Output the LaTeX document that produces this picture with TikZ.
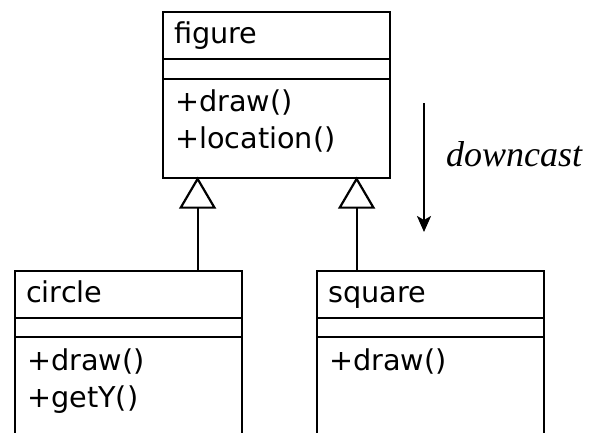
\documentclass[tikz,border=0pt]{standalone}
\usepackage{fontspec}
\newfontfamily\umlfont{DejaVu Sans}
\newfontfamily\notefont{Liberation Serif}
\usetikzlibrary{arrows.meta}

\tikzset{
  classbox/.style={draw, line width=2.2pt, rectangle, inner sep=0pt,
    minimum width=227pt, anchor=north west},
  sepline/.style={line width=2.2pt},
  member/.style={inner sep=0pt, anchor=base west,
    font=\umlfont\fontsize{28.7}{34}\selectfont},
  inherit/.style={line width=2.2pt,
    -{Triangle[open, length=32pt, width=37pt, line width=2.2pt]}},
  flow/.style={line width=2.2pt, -{Stealth[length=16pt, width=14pt, inset=4pt]}},
}

\begin{document}
\begin{tikzpicture}[x=1pt, y=1pt]
  \useasboundingbox (0,0) rectangle (590,-432);
  \clip (0,0) rectangle (590,-432);

  % base class
  \node[classbox, minimum height=166.3pt] (figure) at (162,-10.7) {};
  \draw[sepline] (figure.west |- 0,-59) -- (figure.east |- 0,-59);
  \draw[sepline] (figure.west |- 0,-79) -- (figure.east |- 0,-79);
  \node[member] (figname) at (174,-43) {figure};
  \node[member] (figdraw) at (175,-111) {+draw()};
  \node[member] (figloc) at (175,-148) {+location()};

  % derived classes (they run past the lower edge)
  \node[classbox, minimum height=200pt] (circle) at (14,-270) {};
  \draw[sepline] (circle.west |- 0,-318) -- (circle.east |- 0,-318);
  \draw[sepline] (circle.west |- 0,-337) -- (circle.east |- 0,-337);
  \node[member] (cirname) at (26,-302) {circle};
  \node[member] (cirdraw) at (27,-370) {+draw()};
  \node[member] (ciry) at (27,-407) {+getY()};

  \node[classbox, minimum height=200pt] (square) at (316,-270) {};
  \draw[sepline] (square.west |- 0,-318) -- (square.east |- 0,-318);
  \draw[sepline] (square.west |- 0,-337) -- (square.east |- 0,-337);
  \node[member] (sqname) at (328,-302) {square};
  \node[member] (sqdraw) at (329,-370) {+draw()};

  % generalisation arrows
  \draw[inherit] ([xshift=-79pt]figure.south |- circle.north)
    -- ([xshift=-79pt, yshift=2.5pt]figure.south);
  \draw[inherit] ([xshift=80pt]figure.south |- square.north)
    -- ([xshift=80pt, yshift=2.5pt]figure.south);

  % downcast note
  \coordinate (dtop) at (424,-103);
  \coordinate (dbot) at (424,-232);
  \draw[flow] (dtop) -- (dbot);
  \node[inner sep=0pt, anchor=base west, font=\notefont\itshape\fontsize{36}{40}\selectfont]
    (downcast) at (446,-166) {downcast};
\end{tikzpicture}
\end{document}
